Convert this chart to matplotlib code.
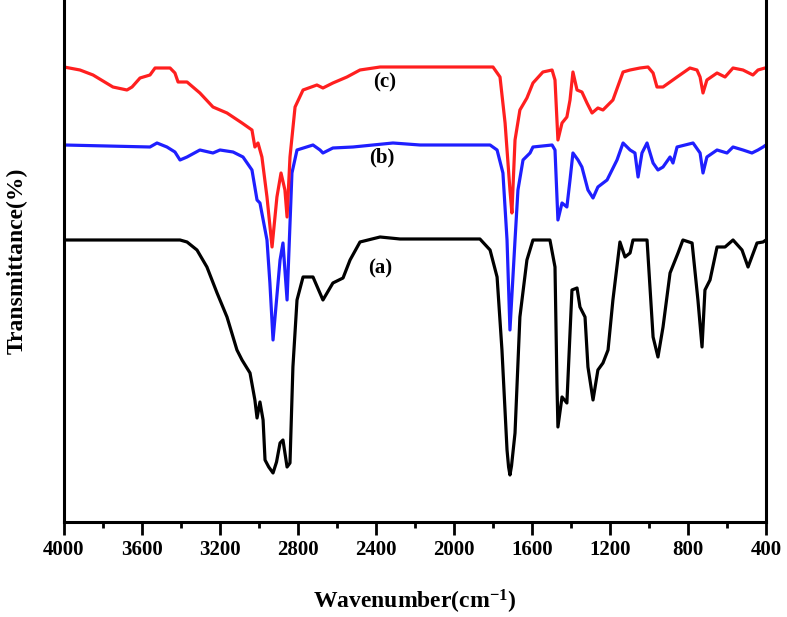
import matplotlib.pyplot as plt
from matplotlib.ticker import MultipleLocator

# Spectrum (a) - black
wn_a = [4000, 3405, 3369, 3318, 3267, 3215, 3164, 3113, 3087, 3046, 3021, 3010, 2995, 2979,
        2969, 2950, 2928, 2910, 2892, 2877, 2856, 2841, 2826, 2805, 2774, 2723, 2672, 2621, 2569, 2533,
        2482, 2379, 2277, 2174, 1867, 1815, 1779, 1754, 1728, 1720, 1713, 1705, 1687, 1662, 1626, 1595,
        1508, 1482, 1472, 1467, 1446, 1421, 1405, 1395, 1369, 1354, 1328, 1313, 1287, 1262,
        1236, 1210, 1185, 1149, 1123, 1097, 1082, 1010, 979, 954, 928, 892, 851, 826, 779,
        749, 728, 713, 687, 651, 610, 569, 523, 492, 446, 415, 400]
t_a = [282, 282, 280, 272, 255, 229, 205, 172, 162, 149, 122, 104, 120, 102,
       62, 55, 49, 60, 79, 82, 55, 59, 155, 222, 245, 245, 222, 239, 244, 262,
       280, 285, 283, 283, 283, 272, 245, 172, 72, 55, 47, 56, 89, 205, 262, 282,
       282, 255, 139, 95, 125, 119, 189, 232, 234, 215, 205, 155, 122, 152,
       159, 172, 222, 280, 265, 269, 282, 282, 185, 165, 195, 249, 269, 282, 279,
       222, 175, 232, 242, 275, 275, 282, 272, 255, 279, 280, 282]

# Spectrum (b) - blue
wn_b = [4000, 3559, 3523, 3472, 3431, 3405, 3369, 3303, 3236, 3200, 3133, 3082, 3036, 3010,
        2995, 2959, 2944, 2928, 2892, 2877, 2856, 2831, 2805, 2723, 2687, 2672, 2621, 2518,
        2313, 2174, 1815, 1779, 1749, 1728, 1713, 1687, 1672, 1646, 1610, 1595, 1497, 1482,
        1467, 1446, 1421, 1405, 1390, 1364, 1344, 1313, 1287, 1262, 1215, 1164, 1133, 1097,
        1072, 1056, 1036, 1010, 979, 954, 928, 892, 877, 856, 774, 738, 723, 703, 651, 600,
        569, 518, 472, 441, 415, 400]
t_b = [377, 375, 379, 375, 370, 362, 365, 372, 369, 372, 370, 365, 352, 322,
       319, 282, 239, 182, 262, 279, 222, 349, 372, 377, 372, 369, 374, 375,
       379, 377, 377, 372, 349, 282, 192, 282, 332, 362, 369, 375, 377, 372,
       302, 319, 315, 342, 369, 362, 355, 332, 324, 335, 342, 362, 379, 372,
       369, 345, 369, 379, 359, 352, 355, 365, 359, 375, 379, 369, 349, 365, 372, 369,
       375, 372, 369, 372, 375, 377]

# Spectrum (c) - red
wn_c = [4000, 3918, 3851, 3749, 3677, 3651, 3610, 3559, 3533, 3456, 3431, 3415, 3369, 3303,
        3236, 3164, 3087, 3036, 3021, 3005, 2985, 2959, 2933, 2908, 2887, 2867, 2856, 2841,
        2815, 2774, 2703, 2672, 2621, 2549, 2482, 2379, 2174, 1800, 1764, 1738, 1713, 1703,
        1687, 1662, 1626, 1595, 1544, 1497, 1482, 1467, 1446, 1421, 1405, 1390, 1369, 1344,
        1318, 1292, 1262, 1236, 1185, 1133, 1097, 1046, 1005, 979, 959, 928, 856, 790, 754,
        738, 723, 703, 651, 610, 569, 518, 467, 441, 405, 400]
t_c = [455, 452, 447, 435, 432, 435, 444, 447, 454, 454, 449, 440, 440, 429,
       415, 409, 399, 392, 375, 379, 365, 325, 275, 325, 349, 332, 305, 365,
       415, 432, 437, 434, 439, 445, 452, 455, 455, 455, 445, 399, 332, 309,
       382, 412, 424, 439, 450, 452, 442, 382, 399, 405, 422, 450, 432, 430,
       419, 409, 414, 412, 422, 450, 452, 454, 455, 449, 435, 435, 445, 454, 452,
       445, 429, 442, 449, 445, 454, 452, 447, 452, 454, 454]

serif = ['Liberation Serif', 'DejaVu Serif']
plt.rcParams['mathtext.fontset'] = 'custom'
plt.rcParams['mathtext.rm'] = 'Liberation Serif:bold'
plt.rcParams['mathtext.bf'] = 'Liberation Serif:bold'
plt.rcParams['mathtext.default'] = 'bf'

fig = plt.figure(figsize=(7.87, 6.17), dpi=100)
ax = fig.add_axes([0.0813, 0.154, 0.892, 0.846])

ax.plot(wn_a, t_a, color='black', lw=2.3)
ax.plot(wn_b, t_b, color='#1f1fff', lw=2.3)
ax.plot(wn_c, t_c, color='#ff1f1f', lw=2.3)

ax.text(2354, 440, '(c)', family=serif, fontweight='bold', fontsize=15, va='center', ha='center')
ax.text(2369, 365, '(b)', family=serif, fontweight='bold', fontsize=15, va='center', ha='center')
ax.text(2379, 254, '(a)', family=serif, fontweight='bold', fontsize=15, va='center', ha='center')

ax.set_xlim(4000, 400)
ax.set_ylim(0, 522)
ax.xaxis.set_major_locator(MultipleLocator(400))
ax.xaxis.set_minor_locator(MultipleLocator(200))
ax.set_yticks([])
ax.spines['top'].set_visible(False)
for s in ['left', 'right', 'bottom']:
    ax.spines[s].set_linewidth(2.2)
ax.tick_params(axis='x', which='major', direction='out', length=9, width=2, pad=4)
ax.tick_params(axis='x', which='minor', direction='out', length=4.5, width=2)
for lbl in ax.get_xticklabels():
    lbl.set_family(serif)
    lbl.set_fontweight('bold')
    lbl.set_fontsize(15)

ax.set_xlabel('Wavenumber(cm$^{-1}$)', family=serif, fontweight='bold', fontsize=17, labelpad=20)
ax.set_ylabel('Transmittance(%)', family=serif, fontweight='bold', fontsize=17, labelpad=26)

fig.savefig('out.png', dpi=100)
